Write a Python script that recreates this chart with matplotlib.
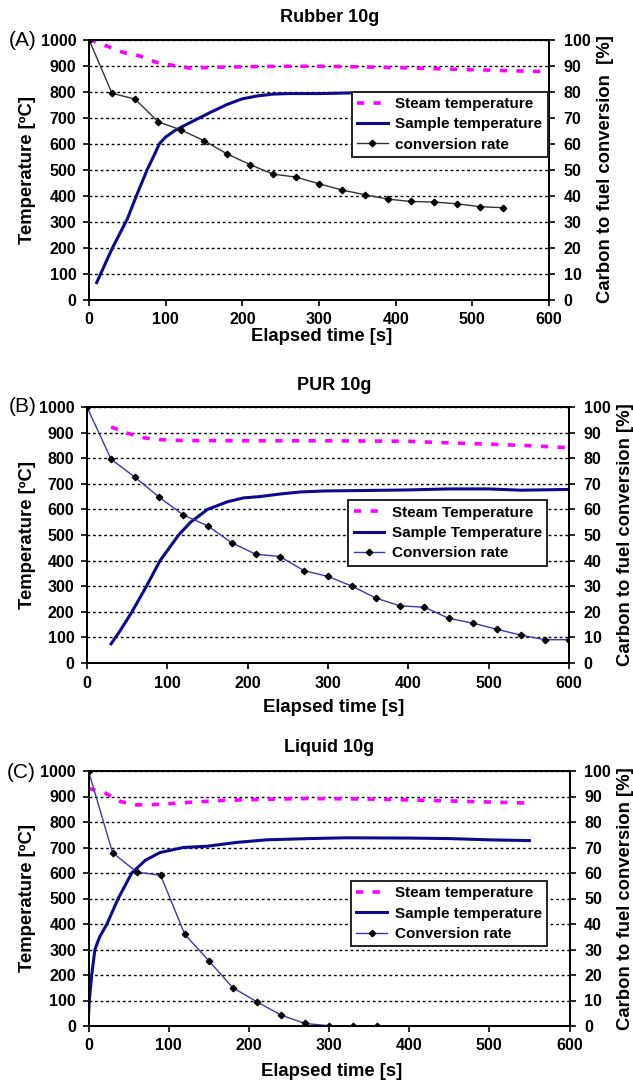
import matplotlib
matplotlib.use("Agg")
import matplotlib.pyplot as plt

plt.rcParams['font.family'] = ['Liberation Sans', 'DejaVu Sans']
plt.rcParams['font.weight'] = 'bold'

# ---- data ----
# (A) Rubber 10g
rub_steam_t = [0, 25, 45, 66, 88, 110, 132, 160, 200, 250, 300, 350, 400, 450, 500, 550, 600]
rub_steam_v = [1000, 973, 950, 937, 912, 900, 890, 893, 895, 897, 897, 895, 892, 888, 884, 880, 876]
rub_sample_t = [10, 30, 50, 62, 76, 85, 92, 100, 112, 125, 145, 160, 180, 200, 220, 240, 260, 300,
                350, 400, 450, 500, 550, 600]
rub_sample_v = [65, 195, 310, 400, 500, 555, 600, 625, 650, 670, 700, 722, 750, 772, 783, 790, 792,
                792, 795, 795, 795, 790, 785, 778]
rub_conv_t = [0, 30, 60, 90, 120, 150, 180, 210, 240, 270, 300, 330, 360, 390, 420, 450, 480, 510, 540]
rub_conv_v = [100, 79.3, 77.1, 68.4, 65.2, 61.1, 56, 51.9, 48.2, 47.1, 44.5, 42.1, 40.3, 38.6, 37.7,
              37.5, 36.8, 35.7, 35.3]

# (B) PUR 10g
pur_steam_t = [30, 50, 70, 90, 115, 200, 300, 400, 450, 500, 550, 600]
pur_steam_v = [922, 898, 880, 873, 869, 868, 868, 866, 860, 855, 849, 841]
pur_sample_t = [30, 40, 56, 74, 91, 114, 129, 150, 175, 195, 215, 240, 265, 295, 350, 400, 450, 500,
                540, 600]
pur_sample_v = [75, 120, 200, 300, 400, 500, 550, 600, 630, 645, 650, 660, 668, 672, 674, 676, 680,
                680, 675, 678]
pur_conv_t = [0, 30, 60, 90, 120, 150, 180, 210, 240, 270, 300, 330, 360, 390, 420, 450, 480, 510,
              540, 570, 600]
pur_conv_v = [100, 79.6, 72.5, 64.7, 57.8, 53.6, 47, 42.5, 41.6, 36.1, 33.8, 30, 25.3, 22.3, 21.8,
              17.5, 15.6, 13.2, 10.9, 9.1, 9.1]

# (C) Liquid 10g
liq_steam_t = [0, 20, 30, 40, 60, 80, 120, 170, 220, 270, 320, 370, 420, 470, 550]
liq_steam_v = [932, 915, 898, 880, 867, 868, 876, 885, 889, 892, 891, 889, 885, 881, 874]
liq_sample_t = [0, 1, 4, 8, 14, 23, 37, 54, 71, 89, 118, 148, 185, 222, 276, 320, 400, 450, 500, 550]
liq_sample_v = [40, 100, 200, 300, 350, 400, 500, 600, 650, 680, 700, 705, 720, 730, 735, 738, 737,
                735, 730, 727]
liq_conv_t = [0, 30, 60, 90, 120, 150, 180, 210, 240, 270, 300, 330, 360]
liq_conv_v = [100, 68, 60.4, 59.1, 36, 25.6, 15, 9.5, 4.3, 1, 0.1, 0, 0]

W, H = 633, 1085
fig = plt.figure(figsize=(W / 100, H / 100), dpi=100)


def ftext(x, y, s, **kw):
    fig.text(x / W, 1 - y / H, s, ha='center', va='center', **kw)


def panel(box, title, title_xy, tag, tag_xy, xlab_xy, rlab_x, rlabel,
          steam, sample, conv, conv_color, labels, leg_anchor):
    l, t, r, b = box
    ax = fig.add_axes([l / W, 1 - b / H, (r - l) / W, (b - t) / H])
    ax2 = ax.twinx()

    ax.plot(*steam, color='#ff00ff', lw=2.6, dashes=(2.0, 2.6), label=labels[0])
    ax.plot(*sample, color='#0b0b8c', lw=2.2, label=labels[1])
    ax2.plot(*conv, color=conv_color, lw=1.0, marker='D', ms=3.3,
             mfc='black', mec='black', label=labels[2])

    ax.set_xlim(0, 600)
    ax.set_ylim(0, 1000)
    ax2.set_ylim(0, 100)
    ax.set_xticks(range(0, 601, 100))
    ax.set_yticks(range(0, 1001, 100))
    ax2.set_yticks(range(0, 101, 10))
    ax.set_axisbelow(True)
    ax.grid(axis='y', color='black', linestyle=(0, (2, 2)), lw=1.0)

    for a in (ax, ax2):
        for sp in a.spines.values():
            sp.set_linewidth(1.4)
        a.tick_params(direction='out', length=4, width=1.2, labelsize=11.5)
        for lab in a.get_xticklabels() + a.get_yticklabels():
            lab.set_fontweight('bold')
    ax.tick_params(axis='y', pad=5)
    ax.tick_params(axis='x', pad=5)
    ax2.tick_params(axis='y', pad=6.5)

    h1, l1 = ax.get_legend_handles_labels()
    h2, l2 = ax2.get_legend_handles_labels()
    leg = ax2.legend(h1 + h2, l1 + l2, loc='upper right', bbox_to_anchor=leg_anchor,
                     borderaxespad=0, fancybox=False, framealpha=1, edgecolor='#222222',
                     prop={'weight': 'bold', 'size': 11}, handlelength=2.0, labelspacing=0.42,
                     numpoints=1, borderpad=0.35, handletextpad=0.5)
    leg.get_frame().set_linewidth(1.4)

    ftext(title_xy[0], title_xy[1], title, fontsize=13, fontweight='bold')
    ftext(tag_xy[0], tag_xy[1], tag, fontsize=15, fontweight='normal')
    ftext(xlab_xy[0], xlab_xy[1], 'Elapsed time [s]', fontsize=13.3, fontweight='bold')
    ftext(28, (t + b) / 2, 'Temperature [ºC]', fontsize=13.3, fontweight='bold', rotation=90)
    ftext(rlab_x, (t + b) / 2, rlabel, fontsize=13.3, fontweight='bold', rotation=90)


panel((89, 39.5, 549, 299.5), 'Rubber 10g', (330, 18), '(A)', (23, 40), (322, 337), 606,
      'Carbon to fuel conversion  [%]',
      (rub_steam_t, rub_steam_v), (rub_sample_t, rub_sample_v), (rub_conv_t, rub_conv_v),
      '#333333', ['Steam temperature', 'Sample temperature', 'conversion rate'],
      (0.997, 0.80))

panel((87, 407, 569, 663), 'PUR 10g', (334, 385), '(B)', (23, 407), (334, 707), 626,
      'Carbon to fuel conversion [%]',
      (pur_steam_t, pur_steam_v), (pur_sample_t, pur_sample_v), (pur_conv_t, pur_conv_v),
      '#3a3aa8', ['Steam Temperature', 'Sample Temperature', 'Conversion rate'],
      (0.955, 0.636))

panel((88.5, 771, 569.5, 1026), 'Liquid 10g', (329, 748), '(C)', (21, 773), (332, 1072), 626,
      'Carbon to fuel conversion [%]',
      (liq_steam_t, liq_steam_v), (liq_sample_t, liq_sample_v), (liq_conv_t, liq_conv_v),
      '#3a3aa8', ['Steam temperature', 'Sample temperature', 'Conversion rate'],
      (0.953, 0.569))

fig.savefig('out.png', dpi=100)
